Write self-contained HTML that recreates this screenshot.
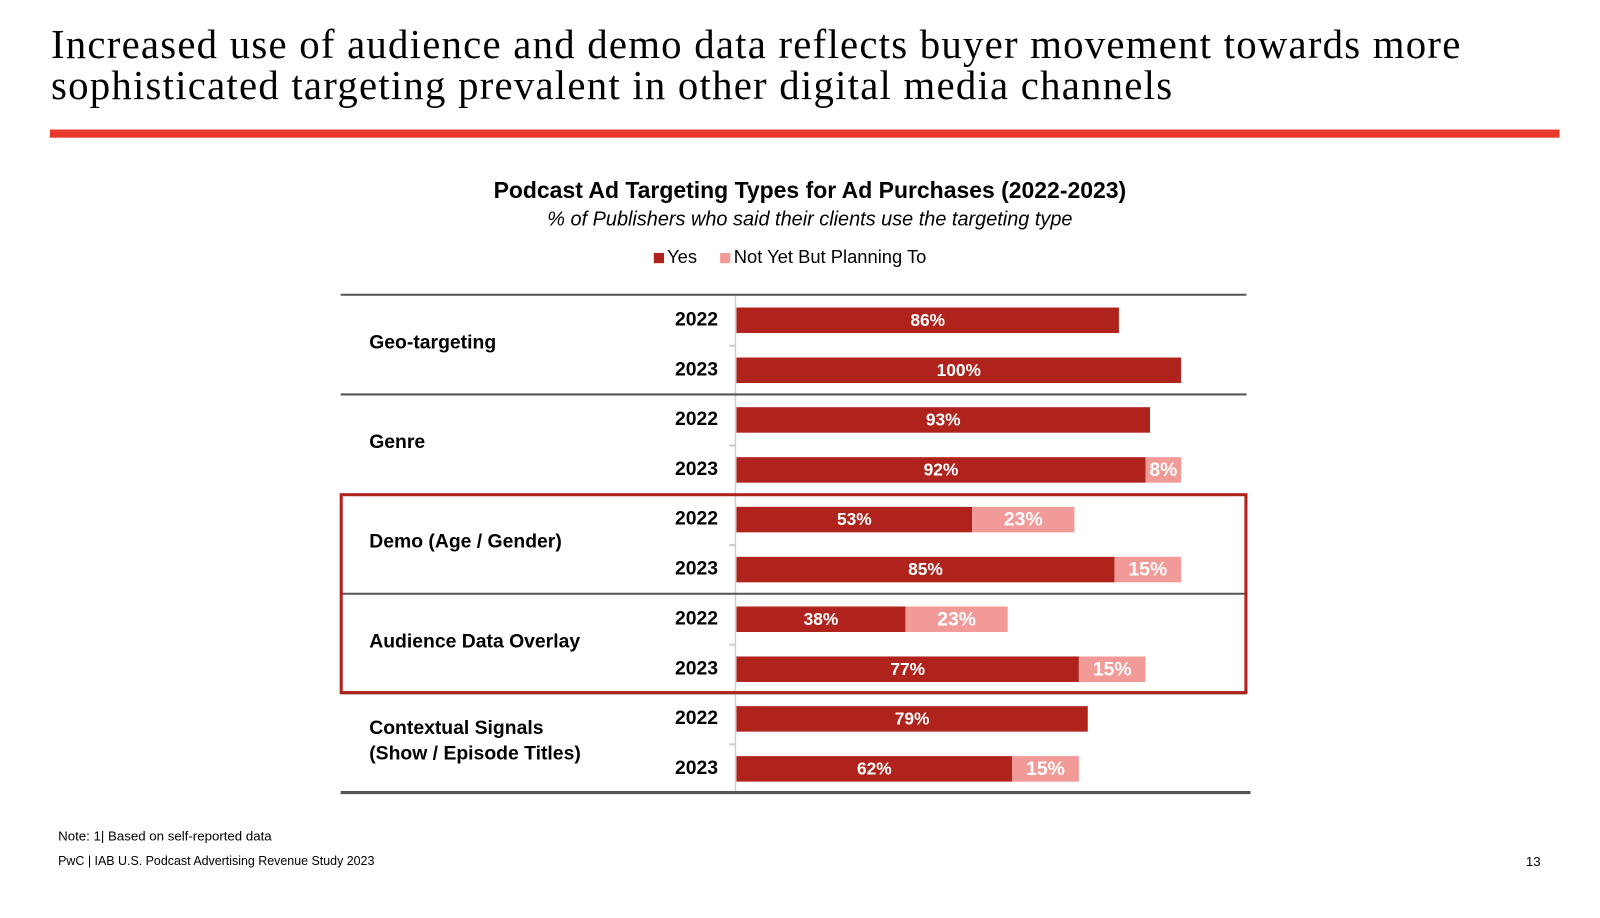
<!DOCTYPE html>
<html><head><meta charset="utf-8">
<style>
body{margin:0;width:1600px;height:900px;background:#fff;position:relative;overflow:hidden;font-family:"Liberation Sans",sans-serif;}
#wrap{position:absolute;left:0;top:0;width:1600px;height:900px;transform:scale(1.02);transform-origin:0 0;}
.t{position:absolute;white-space:nowrap;}
</style></head><body>
<div id="wrap">
<div class="t" style="left:50px;top:24px;font-family:'Liberation Serif',serif;font-size:40px;letter-spacing:1.2px;line-height:40px;color:#000;">Increased use of audience and demo data reflects buyer movement towards more<br>sophisticated targeting prevalent in other digital media channels</div>
<div style="position:absolute;left:49px;top:127px;width:1480px;height:8px;background:#e8392b;"></div>
<div class="t" style="left:0;width:1588px;text-align:center;top:174px;font-size:22.5px;font-weight:bold;">Podcast Ad Targeting Types for Ad Purchases (2022-2023)</div>
<div class="t" style="left:0;width:1588px;text-align:center;top:204px;font-size:19.5px;font-style:italic;">% of Publishers who said their clients use the targeting type</div>
<div class="t" style="left:641px;top:242px;font-size:18px;">
<span><span style="display:inline-block;width:10px;height:10px;background:#b0231d;margin-right:3px"></span>Yes</span>
<span style="margin-left:18px"><span style="display:inline-block;width:10px;height:10px;background:#f29a98;margin-right:3px"></span>Not Yet But Planning To</span></div>
<svg id="chart" width="1600" height="900" style="position:absolute;left:0;top:0"></svg>
<div class="t" style="left:57px;top:812px;font-size:13px;">Note: 1| Based on self-reported data</div>
<div class="t" style="left:57px;top:837px;font-size:12.2px;">PwC | IAB U.S. Podcast Advertising Revenue Study 2023</div>
<div class="t" style="left:1496px;top:837px;font-size:13px;">13</div>
</div>
<script>
const categories=["Geo-targeting","Genre","Demo (Age / Gender)","Audience Data Overlay","Contextual Signals\n(Show / Episode Titles)"];
const years=["2022","2023"];
const yes2022=[86,93,53,38,79];
const yes2023=[100,92,85,77,62];
const plan2022=[0,0,23,23,0];
const plan2023=[0,8,15,15,15];
const NS="http://www.w3.org/2000/svg";
const svg=document.getElementById('chart');
const x0=722,pxPer=4.36;
const xs=v=>x0+v*pxPer;
const groupTop=289,groupH=97.7;
function mk(tag,a){const e=document.createElementNS(NS,tag);for(const k in a)e.setAttribute(k,a[k]);svg.appendChild(e);return e;}
const ax=mk('line',{x1:x0-1,y1:289,x2:x0-1,y2:777,stroke:'#d0d0d0','stroke-width':1.5});


categories.forEach((c,i)=>{
  const gy=groupTop+i*groupH;
  if(i>0&&i!==2){const l=mk('line',{x1:334,x2:1222,y1:gy,y2:gy,stroke:'#555','stroke-width':2});
    
    }
  const lines=c.split('\n');
  lines.forEach((ln,j)=>{
    const t=mk('text',{x:362,y:gy+47.5+(j-(lines.length-1)/2)*25,'font-size':19,'font-weight':'bold','font-family':'Liberation Sans, sans-serif','dominant-baseline':'middle'});
    t.textContent=ln;
    
    
  });
  const tk=mk('line',{x1:x0-7,x2:x0-1,y1:gy+50,y2:gy+50,stroke:'#ccc','stroke-width':2});
  
  
  [[yes2022[i],plan2022[i]],[yes2023[i],plan2023[i]]].forEach((p,k)=>{
    const cy=gy+25+k*49;
    const yl=mk('text',{x:704,y:cy,'font-size':19,'font-weight':'bold','text-anchor':'end','dominant-baseline':'middle','font-family':'Liberation Sans, sans-serif'});
    yl.textContent=years[k];
    
    
    const b=mk('rect',{x:x0,y:cy-12.5,width:xs(p[0])-x0,height:25,fill:'#b0231d'});
    
    
    const bt=mk('text',{x:(x0+xs(p[0]))/2,y:cy+1,fill:'#fff','font-size':17,'font-weight':'bold','text-anchor':'middle','dominant-baseline':'middle','font-family':'Liberation Sans, sans-serif'});
    bt.textContent=p[0]+'%';
    
    
    if(p[1]>0){
      const r=mk('rect',{x:xs(p[0]),y:cy-12.5,width:xs(p[0]+p[1])-xs(p[0]),height:25,fill:'#f29a98'});
      
      
      const rt=mk('text',{x:(xs(p[0])+xs(p[0]+p[1]))/2,y:cy+1,fill:'#fff','font-size':19,'font-weight':'bold','text-anchor':'middle','dominant-baseline':'middle','font-family':'Liberation Sans, sans-serif'});
      rt.textContent=p[1]+'%';
      
      
    }
  });
});
const topLine=mk('line',{x1:334,x2:1222,y1:289,y2:289,stroke:'#555','stroke-width':2});


const botLine=mk('line',{x1:334,x2:1226,y1:777,y2:777,stroke:'#555','stroke-width':3});


const hb=mk('rect',{x:334.5,y:485,width:887,height:194,fill:'none',stroke:'#b0231d','stroke-width':3});


</script>
</body></html>
